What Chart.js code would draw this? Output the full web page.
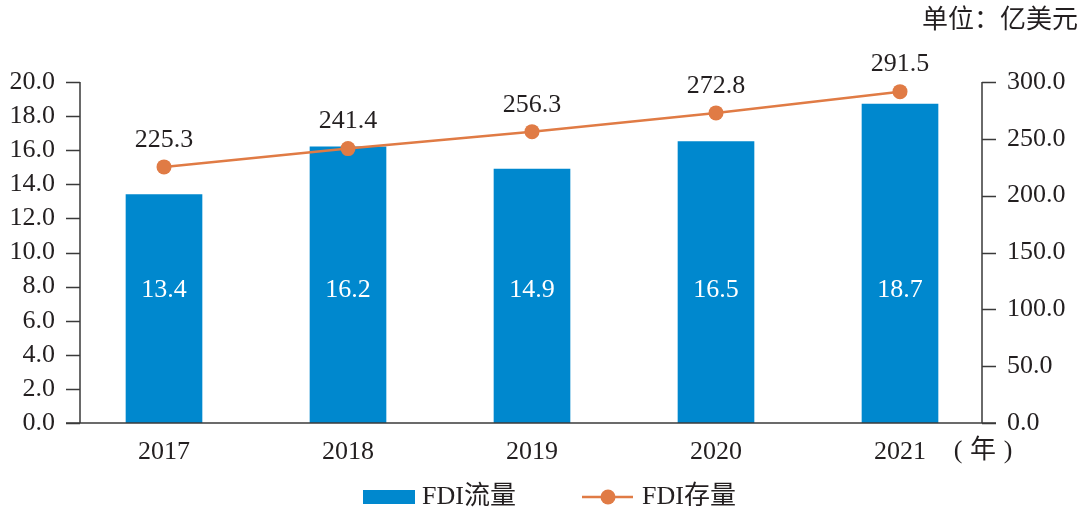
<!DOCTYPE html>
<html>
<head>
<meta charset="utf-8">
<script src="https://cdn.jsdelivr.net/npm/chart.js@4"></script>
<style>
  html, body { margin: 0; padding: 0; background: #fff; }
  canvas { display: block; }
</style>
</head>
<body>
<canvas id="fdiChart" width="1083" height="512"></canvas>
<script>
// chart data
const years = ['2017', '2018', '2019', '2020', '2021'];
const fdiFlow = [13.4, 16.2, 14.9, 16.5, 18.7];        // FDI流量 (left axis)
const fdiStock = [225.3, 241.4, 256.3, 272.8, 291.5];  // FDI存量 (right axis)
const flowLabel = 'FDI流量';
const stockLabel = 'FDI存量';
const unitText = '单位：亿美元';
const yearText = ['(', '年', ')'];

const FONT = "'Liberation Serif', 'Times New Roman', 'Noto Sans CJK SC', serif";
const TEXT = '#231f20';
const AXIS = '#3a3a3a';
const BLUE = '#0088ce';
const ORANGE = '#e07b45';

// axes, data labels and legend drawn by hand
const decorations = {
    id: 'decorations',
    beforeDatasetsDraw(chart) {
        const ctx = chart.ctx;
        const area = chart.chartArea;
        const yL = chart.scales.y;
        const yR = chart.scales.y1;
        const leftX = area.left + 8;
        const rightX = area.right - 10;
        ctx.save();
        ctx.strokeStyle = AXIS;
        ctx.lineWidth = 1.5;
        ctx.beginPath();
        ctx.moveTo(leftX, area.top);
        ctx.lineTo(leftX, area.bottom);
        ctx.moveTo(rightX, area.top);
        ctx.lineTo(rightX, area.bottom);
        yL.ticks.forEach(t => {
            const py = Math.round(yL.getPixelForValue(t.value)) + 0.5;
            ctx.moveTo(leftX - 14, py);
            ctx.lineTo(leftX, py);
        });
        yR.ticks.forEach(t => {
            const py = Math.round(yR.getPixelForValue(t.value)) + 0.5;
            ctx.moveTo(rightX, py);
            ctx.lineTo(rightX + 14, py);
        });
        ctx.stroke();
        ctx.restore();
    },
    afterDatasetsDraw(chart) {
        const ctx = chart.ctx;
        const area = chart.chartArea;
        const yL = chart.scales.y;
        ctx.save();
        // baseline over the bars
        ctx.strokeStyle = AXIS;
        ctx.lineWidth = 1.5;
        ctx.beginPath();
        ctx.moveTo(area.left + 8 - 14, area.bottom);
        ctx.lineTo(area.right - 10 + 14, area.bottom);
        ctx.stroke();

        ctx.font = '26px ' + FONT;
        ctx.textAlign = 'center';
        ctx.textBaseline = 'middle';

        // bar value labels, all on one row
        ctx.fillStyle = '#ffffff';
        const labelY = yL.getPixelForValue(7.8);
        chart.getDatasetMeta(0).data.forEach((bar, i) => {
            ctx.fillText(fdiFlow[i].toFixed(1), bar.x, labelY);
        });

        // line value labels above points
        ctx.fillStyle = TEXT;
        chart.getDatasetMeta(1).data.forEach((pt, i) => {
            ctx.fillText(fdiStock[i].toFixed(1), pt.x, pt.y - 27);
        });

        // unit and year text
        ctx.textAlign = 'right';
        ctx.fillText(unitText, 1078, 21);
        ctx.textAlign = 'center';
        const yearX = [958, 983, 1008];
        yearText.forEach((ch, i) => ctx.fillText(ch, yearX[i], 451));

        // legend
        const ly = 497;
        ctx.fillStyle = BLUE;
        ctx.fillRect(363, ly - 7, 52, 14);
        ctx.fillStyle = TEXT;
        ctx.textAlign = 'left';
        ctx.fillText(flowLabel, 422, ly);

        ctx.strokeStyle = ORANGE;
        ctx.lineWidth = 2.5;
        ctx.beginPath();
        ctx.moveTo(582, ly);
        ctx.lineTo(633, ly);
        ctx.stroke();
        ctx.fillStyle = ORANGE;
        ctx.beginPath();
        ctx.arc(608, ly, 7.5, 0, Math.PI * 2);
        ctx.fill();
        ctx.fillStyle = TEXT;
        ctx.fillText(stockLabel, 642, ly);
        ctx.restore();
    }
};

const tickFont = { family: FONT, size: 26 };

new Chart(document.getElementById('fdiChart').getContext('2d'), {
    data: {
        labels: years,
        datasets: [
            {
                type: 'bar',
                label: flowLabel,
                data: fdiFlow,
                backgroundColor: BLUE,
                barThickness: 76,
                yAxisID: 'y',
                order: 2
            },
            {
                type: 'line',
                label: stockLabel,
                data: fdiStock,
                borderColor: ORANGE,
                backgroundColor: ORANGE,
                borderWidth: 2.5,
                pointRadius: 7.5,
                pointBackgroundColor: ORANGE,
                pointBorderWidth: 0,
                tension: 0,
                yAxisID: 'y1',
                order: 1
            }
        ]
    },
    options: {
        responsive: false,
        devicePixelRatio: 1,
        animation: false,
        layout: { padding: { top: 82 } },
        plugins: {
            legend: { display: false },
            tooltip: { enabled: false }
        },
        scales: {
            x: {
                offset: true,
                grid: { display: false, drawTicks: false },
                border: { display: false },
                ticks: { font: tickFont, color: TEXT, padding: 14, maxRotation: 0 },
                afterFit: s => { s.height = 89; }
            },
            y: {
                position: 'left',
                min: 0,
                max: 20,
                grid: { display: false, drawTicks: false },
                border: { display: false },
                ticks: { stepSize: 2, autoSkip: false, font: tickFont, color: TEXT, padding: 17, callback: v => v.toFixed(1) },
                afterFit: s => { s.width = 72; }
            },
            y1: {
                position: 'right',
                min: 0,
                max: 300,
                grid: { display: false, drawTicks: false },
                border: { display: false },
                ticks: { stepSize: 50, autoSkip: false, font: tickFont, color: TEXT, padding: 15, callback: v => v.toFixed(1) },
                afterFit: s => { s.width = 91; }
            }
        }
    },
    plugins: [decorations]
});
</script>
</body>
</html>
